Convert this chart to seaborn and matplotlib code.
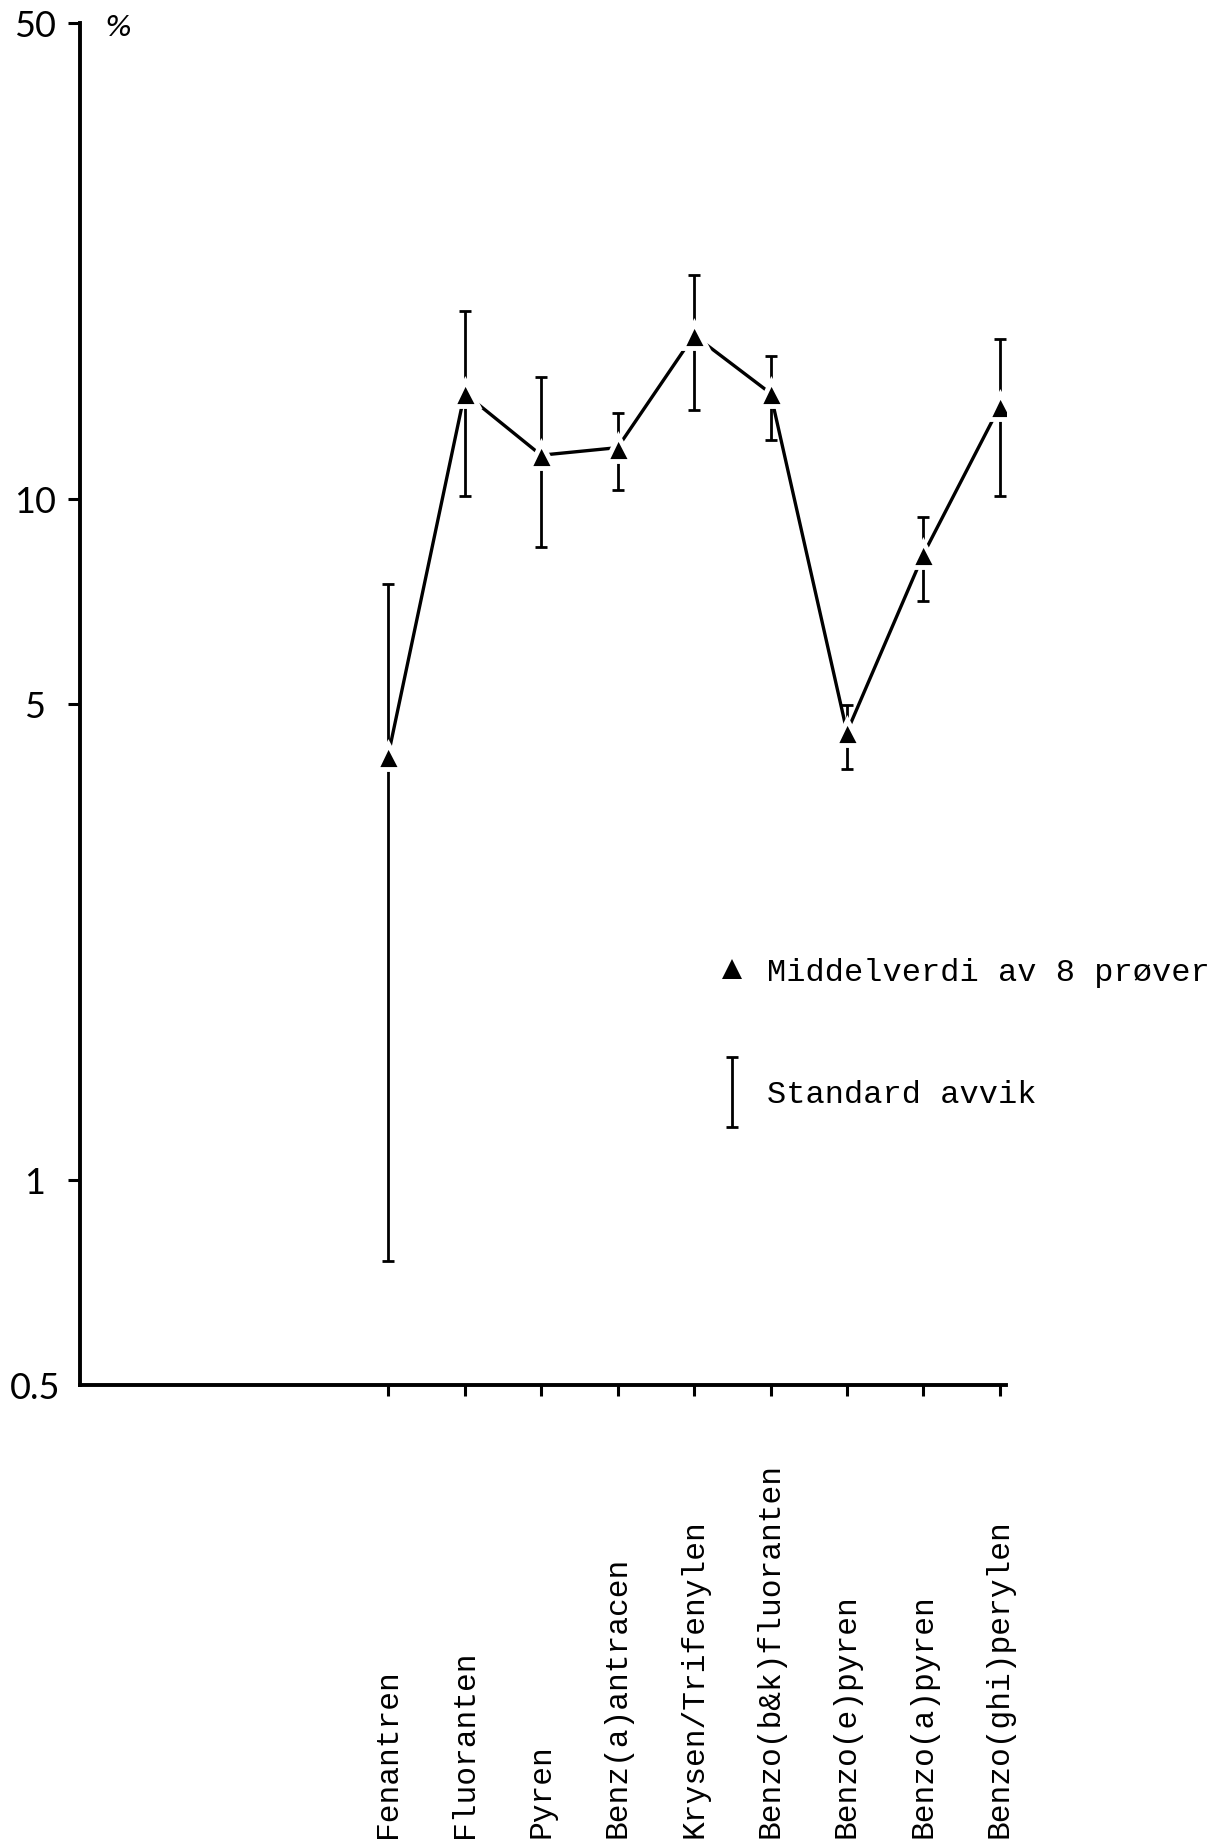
import numpy as np
import pandas as pd
import matplotlib
matplotlib.use("Agg")
import matplotlib.pyplot as plt
import seaborn as sns
from matplotlib.legend_handler import HandlerErrorbar
from matplotlib.lines import Line2D
from matplotlib.ticker import NullLocator, FixedLocator

# ---- data ----
compounds = ["Fenantren", "Fluoranten", "Pyren", "Benz(a)antracen",
             "Krysen/Trifenylen", "Benzo(b&k)fluoranten", "Benzo(e)pyren",
             "Benzo(a)pyren", "Benzo(ghi)perylen"]
mean_pct = [4.2, 14.3, 11.6, 11.9, 17.4, 14.3, 4.55, 8.3, 13.7]
upper_pct = [7.5, 18.9, 15.1, 13.4, 21.3, 16.2, 4.98, 9.4, 17.2]
lower_pct = [0.76, 10.1, 8.5, 10.3, 13.5, 12.2, 4.02, 7.08, 10.1]
y_ticks = [0.5, 1, 5, 10, 50]
y_tick_labels = ["0.5", "1", "5", "10", "50"]
legend_mean = "Middelverdi av 8 prøver"
legend_sd = "Standard avvik"
unit_label = "%"

sns.set_theme(style="ticks")
plt.rcParams["font.family"] = ["Liberation Mono", "DejaVu Sans"]
plt.rcParams["text.color"] = "black"
plt.rcParams["xtick.color"] = "black"
plt.rcParams["ytick.color"] = "black"

df = pd.DataFrame({"pos": np.arange(len(compounds)), "compound": compounds,
                   "mean": mean_pct, "lo": lower_pct, "hi": upper_pct})

fig = plt.figure(figsize=(12.19, 18.48), dpi=100)
ax = fig.add_axes([0.0656, 0.2505, 0.7597, 0.7370])

err = ax.errorbar(df["pos"], df["mean"],
                  yerr=[df["mean"] - df["lo"], df["hi"] - df["mean"]],
                  fmt="none", ecolor="black", elinewidth=2.0,
                  capsize=4.5, capthick=2.0, zorder=1.5)

sns.lineplot(data=df, x="pos", y="mean", ax=ax, color="black", linewidth=2.4,
             marker="^", markersize=18, markerfacecolor="black",
             markeredgecolor="white", markeredgewidth=3.5, errorbar=None,
             zorder=3)

ax.set_yscale("log")
ax.set_ylim(0.5, 50)
ax.set_xlim(-4.03, 8.08)
ax.yaxis.set_major_locator(FixedLocator(y_ticks))
ax.yaxis.set_minor_locator(NullLocator())
ax.set_yticklabels(y_tick_labels, family=["Lato", "DejaVu Sans"],
                   fontweight="normal", fontsize=26, ha="center",
                   color="black")
ax.yaxis.get_major_ticks()[0].tick1line.set_visible(False)

ax.set_xticks(df["pos"].tolist())
ax.set_xticklabels(compounds, rotation=90, va="bottom", ha="center",
                   fontsize=22.5, color="black")
ax.set_xlabel("")
ax.set_ylabel("")

sns.despine(ax=ax)
for side in ("left", "bottom"):
    ax.spines[side].set_linewidth(2.8)
    ax.spines[side].set_color("black")
ax.tick_params(axis="x", direction="out", length=8, width=2.2, pad=318,
               color="black", labelcolor="black")
ax.tick_params(axis="y", direction="out", length=8.5, width=2.2, pad=24,
               color="black", labelcolor="black")

fig.text(118 / 1219, 1 - 28 / 1848, unit_label, fontsize=21,
         family=["DejaVu Sans"], style="italic", ha="center", va="center",
         color="black")

tri = Line2D([], [], ls="none", marker="^", color="black", markersize=15,
             markeredgewidth=0)
fig.legend(handles=[tri, err], labels=[legend_mean, legend_sd],
           handler_map={type(err): HandlerErrorbar(yerr_size=1.1)},
           loc="center left", bbox_to_anchor=(0.5874, 0.4405),
           bbox_transform=fig.transFigure, frameon=False, fontsize=23,
           labelspacing=2.9, handlelength=1.0, handletextpad=0.6,
           borderpad=0, borderaxespad=0, labelcolor="black")

fig.savefig("out.png", dpi=100, facecolor="white")
